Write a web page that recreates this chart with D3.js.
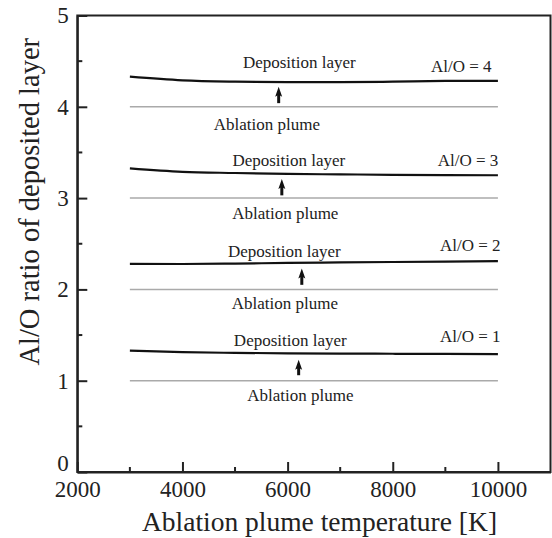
<!DOCTYPE html>
<html>
<head>
<meta charset="utf-8">
<script src="https://cdn.jsdelivr.net/npm/d3@7"></script>
<style>
  body { margin: 0; background: #fff; }
  svg text { font-family: "Liberation Serif", serif !important; fill: #222; }
</style>
</head>
<body>
<div id="chart"></div>
<script>
const W = 552, H = 538;
const margin = { top: 15.5, right: 1.5, bottom: 66, left: 77.3 };
const serif = "'Liberation Serif', serif";

// temperature grid of the curves [K]
const temps = [3000, 4000, 5000, 6000, 7000, 8000, 9000, 10000];

// Al/O ratio of the deposited layer, one series per plume ratio
const dep4 = [4.33, 4.29, 4.275, 4.27, 4.27, 4.275, 4.283, 4.285];
const dep3 = [3.326, 3.288, 3.275, 3.265, 3.26, 3.255, 3.252, 3.25];
const dep2 = [2.28, 2.278, 2.283, 2.29, 2.295, 2.30, 2.305, 2.31];
const dep1 = [1.329, 1.313, 1.305, 1.30, 1.297, 1.295, 1.293, 1.292];

// plume ratios (grey reference lines)
const plume = [4, 3, 2, 1];

// arrows: temperature, from, to
const arrowT = [5830, 5890, 6270, 6210];
const arrowFrom = [4.04, 3.03, 2.05, 1.06];
const arrowTo = [4.22, 3.21, 2.23, 1.23];

const xTicks = [2000, 4000, 6000, 8000, 10000];
const xMinor = [3000, 5000, 7000, 9000];
const yTicks = [0, 1, 2, 3, 4, 5];
const yMinor = [0.5, 1.5, 2.5, 3.5, 4.5];

// annotation labels
const depLabel = "Deposition layer";
const depX = [6223, 6023, 5937, 6051];
const depY = [4.425, 3.35, 2.35, 1.38];
const ablLabel = "Ablation plume";
const ablX = [5607, 5956, 5947, 6242];
const ablY = [3.746, 2.77, 1.785, 0.78];
const ratioLabels = ["Al/O = 4", "Al/O = 3", "Al/O = 2", "Al/O = 1"];
const ratioX = [9878, 10007, 10050, 10050];
const ratioY = [4.38, 3.355, 2.42, 1.42];

const x = d3.scaleLinear().domain([2000, 11000]).range([margin.left, W - margin.right]);
const y = d3.scaleLinear().domain([0, 5]).range([H - margin.bottom, margin.top]);

const svg = d3.select("#chart").append("svg")
  .attr("width", W)
  .attr("height", H)
  .attr("font-family", serif);

// frame
svg.append("rect")
  .attr("x", x(2000)).attr("y", y(5))
  .attr("width", x(11000) - x(2000))
  .attr("height", y(0) - y(5))
  .attr("fill", "none")
  .attr("stroke", "#222")
  .attr("stroke-width", 2);

// axes
const xAxis = svg.append("g")
  .attr("transform", "translate(0," + y(0) + ")")
  .call(d3.axisBottom(x).tickValues(xTicks).tickFormat(d3.format("d"))
    .tickSizeInner(-10).tickSizeOuter(0).tickPadding(8.5));
xAxis.attr("font-family", serif).attr("font-size", 23);
xAxis.selectAll("text").style("font-family", serif).style("font-size", "23px");

xAxis.selectAll(".minor").data(xMinor).enter()
  .append("line").attr("class", "minor")
  .attr("x1", (d) => x(d)).attr("x2", (d) => x(d))
  .attr("y1", 0).attr("y2", -5);

const yAxis = svg.append("g")
  .attr("transform", "translate(" + x(2000) + ",0)")
  .call(d3.axisLeft(y).tickValues(yTicks).tickFormat(d3.format("d"))
    .tickSizeInner(-10).tickSizeOuter(0).tickPadding(8.5));
yAxis.attr("font-family", serif).attr("font-size", 23);
yAxis.selectAll("text").style("font-family", serif).style("font-size", "23px")
  .attr("dy", (d) => d === 0 ? "-0.05em" : "0.32em");

yAxis.selectAll(".minor").data(yMinor).enter()
  .append("line").attr("class", "minor")
  .attr("y1", (d) => y(d)).attr("y2", (d) => y(d))
  .attr("x1", 0).attr("x2", 5);

svg.selectAll(".domain").attr("stroke", "#222").attr("stroke-width", 2);
svg.selectAll(".tick line, .minor").attr("stroke", "#222").attr("stroke-width", 2);

// grey plume lines
svg.selectAll(".plume").data(plume).enter()
  .append("line").attr("class", "plume")
  .attr("x1", x(temps[0])).attr("x2", x(temps[temps.length - 1]))
  .attr("y1", (d) => y(d)).attr("y2", (d) => y(d))
  .attr("stroke", "#aaa")
  .attr("stroke-width", 1.5);

// deposition curves
const line = d3.line()
  .x((d, i) => x(temps[i]))
  .y((d) => y(d))
  .curve(d3.curveMonotoneX);

svg.selectAll(".dep").data([dep4, dep3, dep2, dep1]).enter()
  .append("path").attr("class", "dep")
  .attr("d", line)
  .attr("fill", "none")
  .attr("stroke", "#111")
  .attr("stroke-width", 2.2);

// arrows
arrowT.forEach(function (t, i) {
  const ax = x(t), y0 = y(arrowFrom[i]), y1 = y(arrowTo[i]);
  svg.append("line")
    .attr("x1", ax).attr("x2", ax)
    .attr("y1", y0).attr("y2", y1 + 6)
    .attr("stroke", "#111").attr("stroke-width", 3);
  svg.append("path")
    .attr("d", "M" + ax + "," + y1 + "L" + (ax + 3.5) + "," + (y1 + 10) +
      "L" + ax + "," + (y1 + 8) + "L" + (ax - 3.5) + "," + (y1 + 10) + "Z")
    .attr("fill", "#111");
});

// labels
const lab = svg.append("g").attr("font-size", 17);
depX.forEach(function (t, i) {
  lab.append("text").attr("x", x(t)).attr("y", y(depY[i]))
    .attr("text-anchor", "middle").text(depLabel);
  lab.append("text").attr("x", x(ablX[i])).attr("y", y(ablY[i]))
    .attr("text-anchor", "middle").text(ablLabel);
  lab.append("text").attr("x", x(ratioX[i])).attr("y", y(ratioY[i]))
    .attr("text-anchor", "end").text(ratioLabels[i]);
});

// axis titles
svg.append("text")
  .attr("x", 319.5)
  .attr("y", 531)
  .attr("text-anchor", "middle")
  .attr("font-size", 27.5)
  .text("Ablation plume temperature [K]");

svg.append("text")
  .attr("transform", "translate(39," + (y(2.5) - 42) + ") rotate(-90)")
  .attr("text-anchor", "middle")
  .attr("font-size", 28.5)
  .text("Al/O ratio of deposited layer");
</script>
</body>
</html>
